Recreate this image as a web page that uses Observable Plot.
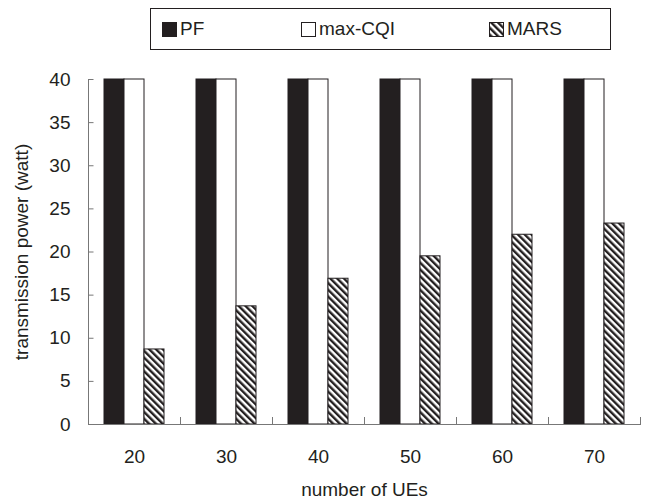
<!DOCTYPE html>
<html>
<head>
<meta charset="utf-8">
<script src="https://cdn.jsdelivr.net/npm/d3@7"></script>
<script src="https://cdn.jsdelivr.net/npm/@observablehq/plot@0.6"></script>
<style>
  body { margin: 0; background: #fff; font-family: "Liberation Sans", Arial, sans-serif; color: #231f20; }
  #wrap { position: relative; width: 663px; height: 502px; }
  #legend { position: absolute; left: 150px; top: 8px; width: 459px; height: 40px; border: 1px solid #231f20; background: #fff; }
  .item { position: absolute; top: 9px; height: 22px; display: flex; align-items: center; font-size: 19px; line-height: 22px; }
  .item svg { margin-right: 3px; display: block; }
  #chart svg { display: block; }
</style>
</head>
<body>
<svg width="0" height="0" style="position:absolute">
  <defs>
    <pattern id="hatch" patternUnits="userSpaceOnUse" width="4.8" height="4.8" patternTransform="rotate(-45)">
      <rect width="4.8" height="4.8" fill="#ffffff"></rect>
      <rect width="2.4" height="4.8" fill="#231f20"></rect>
    </pattern>
  </defs>
</svg>
<div id="wrap">
  <div id="chart"></div>
  <div id="legend"></div>
</div>
<script>
// ---- data ----
const ues = ["20", "30", "40", "50", "60", "70"];
const series = ["PF", "max-CQI", "MARS"];
const pfValues = [40, 40, 40, 40, 40, 40];
const maxCqiValues = [40, 40, 40, 40, 40, 40];
const marsValues = [8.7, 13.7, 16.9, 19.5, 22.0, 23.3];
const yTicks = [0, 5, 10, 15, 20, 25, 30, 35, 40];

// ---- styles ----
const fills = { "PF": "#231f20", "max-CQI": "#ffffff", "MARS": "url(#hatch)" };
const legendLeft = { "PF": 11, "max-CQI": 150, "MARS": 338 };

const valuesBySeries = { "PF": pfValues, "max-CQI": maxCqiValues, "MARS": marsValues };
const data = ues.flatMap((u, i) => series.map(s => ({ ue: u, series: s, value: valuesBySeries[s][i] })));

const axisColor = "#777";
const facetWidth = (663 - 86 - 22) / ues.length;

const chart = Plot.plot({
  width: 663,
  height: 502,
  marginLeft: 86,
  marginRight: 22,
  marginTop: 79,
  marginBottom: 78,
  style: { fontFamily: "'Liberation Sans', Arial, sans-serif", fontSize: "19px", color: "#231f20", background: "white" },
  fx: { domain: ues, padding: 0 },
  x: { domain: series, paddingInner: 0, paddingOuter: 0.735, axis: null },
  y: { domain: [0, 40] },
  color: { type: "identity" },
  marks: [
    Plot.barY(data, { fx: "ue", x: "series", y: "value", fill: d => fills[d.series], stroke: "#231f20", strokeWidth: 1 }),
    Plot.ruleY([0], { stroke: axisColor }),
    Plot.frame({ anchor: "left", facetAnchor: "left", stroke: axisColor }),
    Plot.frame({ anchor: "right", insetTop: 338, stroke: axisColor }),
    Plot.tickY(yTicks, { y: d => d, facetAnchor: "left", insetRight: facetWidth - 6, stroke: axisColor }),
    Plot.axisY(yTicks, { tickSize: 0, tickPadding: 18, label: "transmission power (watt)", labelAnchor: "center", labelOffset: 74, labelArrow: "none" }),
    Plot.axisFx({ anchor: "bottom", tickSize: 0, tickPadding: 25, label: "number of UEs", labelAnchor: "center", labelOffset: 71, labelArrow: "none" })
  ]
});
document.getElementById("chart").appendChild(chart);

// ---- legend ----
const legend = document.getElementById("legend");
series.forEach(s => {
  const item = document.createElement("div");
  item.className = "item";
  item.style.left = legendLeft[s] + "px";
  item.innerHTML = `<svg width="15" height="15"><rect x="0.5" y="0.5" width="14" height="14" fill="${fills[s]}" stroke="#231f20" stroke-width="1"></rect></svg><span>${s}</span>`;
  legend.appendChild(item);
});
</script>
</body>
</html>
